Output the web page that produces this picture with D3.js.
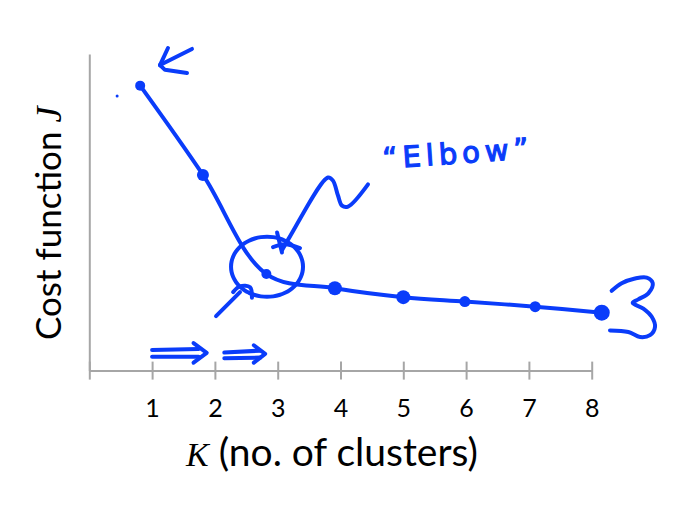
<!DOCTYPE html>
<html><head><meta charset="utf-8">
<script src="https://cdn.jsdelivr.net/npm/d3@7"></script>
<style>html,body{margin:0;padding:0;background:#fff;}svg{display:block;}</style>
</head><body>
<script>
// ---- data ----
const clusterK = [0.81, 1.81, 2.82, 3.91, 5.0, 5.98, 7.1, 8.16];   // hand-drawn x positions
const costJ    = [90.0, 61.8, 30.5, 26.0, 23.2, 21.8, 20.2, 18.3];
const tickLabels = ["1","2","3","4","5","6","7","8"];
const tickValues = [0,1,2,3,4,5,6,7,8];
// hand-drawn annotations in data units [K, J]
const arrowTopLeft = [
  [[1.253,101.9],[1.126,96.5]],
  [[1.126,96.5],[1.205,95.0],[1.556,94.0]],
  [[1.126,96.5],[1.635,101.6]]
];
const strayDot = [0.443, 86.7];
const elbowArrow = [
  [[3.068,38.0],[3.196,42.4],[3.801,61.0],[3.88,60.0],[3.96,55.3],[4.024,52.1],[4.12,51.8],[4.438,58.8]],
  [[2.99,43.6],[3.068,37.3]],
  [[2.925,39.0],[3.116,39.9],[3.355,38.7]]
];
const elbowCircleCenter = [2.83, 32.8];
const elbowCircleRadius = [0.573, 9.5];   // in K units, J units
const lowerHook = [[2.29,24.8],[2.40,26.6],[2.56,26.3],[2.59,23.0]];
const lowerArrow = [[2.018,17.2],[2.40,24.8]];
const rightSquiggle = [[8.318,25.2],[8.477,27.6],[8.689,29.1],[8.876,29.4],[8.972,27.6],[8.902,24.4],[8.742,22.5],[8.653,21.4],[8.822,19.6],[8.956,17.0],[9.008,13.8],[8.928,11.2],[8.77,10.6],[8.584,12.2],[8.291,12.7]];
const bottomArrow1 = [
  [[1.0,6.5],[1.74,6.8]],
  [[1.0,4.4],[1.74,4.4]],
  [[1.66,8.7],[1.87,5.6],[1.66,2.5]]
];
const bottomArrow2 = [
  [[2.15,5.7],[2.72,6.3]],
  [[2.15,3.9],[2.72,4.1]],
  [[2.62,8.0],[2.80,5.3],[2.62,2.5]]
];
const elbowText = "\u201CElbow\u201D";
const xTitleMath = "K";
const xTitleRest = " (no. of clusters)";
const yTitleRest = "Cost function ";
const yTitleMath = "J";
const dotSizes = [5, 6, 5, 7, 7, 5.5, 5.5, 8];

// ---- drawing ----
const W = 697, H = 507;
const blue = "#0a3cfa";
const svg = d3.select("body").append("svg").attr("width", W).attr("height", H);
const x = d3.scaleLinear().domain([0, 8]).range([89.3, 591.7]);
const y = d3.scaleLinear().domain([0, 100]).range([370.6, 54]);

// axes
const xAxis = d3.axisBottom(x).tickValues(tickValues).tickSize(9).tickSizeOuter(0)
  .tickFormat(d => d === 0 ? "" : tickLabels[d - 1]);
const gx = svg.append("g").attr("transform", `translate(0,${y(0)})`).call(xAxis);
gx.select(".domain").attr("stroke", "#a6a6a6").attr("stroke-width", 2);
gx.selectAll(".tick line").attr("stroke", "#a6a6a6").attr("stroke-width", 2)
  .attr("y1", -9).attr("y2", 9);
gx.selectAll(".tick text").attr("fill", "#000").attr("font-family", "Lato, 'Open Sans', sans-serif")
  .attr("font-size", 25).attr("dy", 0).attr("y", 46);

const yAxis = d3.axisLeft(y).tickValues([]).tickSizeOuter(0);
const gy = svg.append("g").attr("transform", `translate(${x(0)},0)`).call(yAxis);
gy.select(".domain").attr("stroke", "#a6a6a6").attr("stroke-width", 2);

// axis titles
const xt = svg.append("text").attr("x", 186).attr("y", 466).attr("font-size", 39)
  .attr("font-family", "Lato, sans-serif").attr("fill", "#000");
xt.append("tspan").attr("font-family", "'Liberation Serif', 'DejaVu Serif', serif").attr("font-style", "italic").attr("font-size", 34).text(xTitleMath);
xt.append("tspan").text(xTitleRest);

const yt = svg.append("text").attr("transform", "translate(61,340) rotate(-90)")
  .attr("font-size", 35).attr("font-family", "Lato, sans-serif").attr("fill", "#000");
yt.append("tspan").text(yTitleRest);
yt.append("tspan").attr("font-family", "'Liberation Serif', 'DejaVu Serif', serif").attr("font-style", "italic").attr("font-size", 36).text(yTitleMath);

// data line
const pts = clusterK.map((k, i) => [k, costJ[i]]);
const line = d3.line().x(d => x(d[0])).y(d => y(d[1])).curve(d3.curveCatmullRom.alpha(0.5));
const marks = svg.append("g");
marks.append("path").datum(pts).attr("d", line).attr("fill", "none")
  .attr("stroke", blue).attr("stroke-width", 4).attr("stroke-linecap", "round").attr("stroke-linejoin", "round");
marks.selectAll("circle.pt").data(pts).join("circle").attr("class", "pt")
  .attr("cx", d => x(d[0])).attr("cy", d => y(d[1])).attr("r", (d, i) => dotSizes[i]).attr("fill", blue);

// annotations
const ann = svg.append("g").attr("fill", "none").attr("stroke", blue).attr("stroke-width", 4)
  .attr("stroke-linecap", "round").attr("stroke-linejoin", "round");
const straight = d3.line().x(d => x(d[0])).y(d => y(d[1])).curve(d3.curveLinear);
const smooth = d3.line().x(d => x(d[0])).y(d => y(d[1])).curve(d3.curveCatmullRom.alpha(0.5));
[...arrowTopLeft, ...bottomArrow1, ...bottomArrow2].forEach(s => ann.append("path").attr("d", straight(s)));
ann.append("path").attr("d", smooth(elbowArrow[0]));
ann.append("path").attr("d", straight(elbowArrow[1]));
ann.append("path").attr("d", smooth(elbowArrow[2]));
// hand-drawn circle round the elbow (slightly more than one turn)
const ring = d3.range(-120, 260, 10).map(a => {
  const t = a * Math.PI / 180;
  return [elbowCircleCenter[0] + elbowCircleRadius[0] * Math.cos(t),
          elbowCircleCenter[1] + elbowCircleRadius[1] * Math.sin(t)];
});
ann.append("path").attr("d", smooth(ring));
ann.append("path").attr("d", smooth(lowerHook));
ann.append("path").attr("d", straight(lowerArrow));
ann.append("path").attr("d", smooth(rightSquiggle));
svg.append("circle").attr("cx", x(strayDot[0])).attr("cy", y(strayDot[1])).attr("r", 1.5).attr("fill", blue);

svg.append("text").attr("transform", `translate(${x(4.68)},${y(63.8)}) rotate(-4)`)
  .attr("font-family", "'DejaVu Sans', sans-serif").attr("font-size", 29).attr("letter-spacing", 5)
  .attr("fill", blue).attr("stroke", blue).attr("stroke-width", 1.2).text(elbowText);
</script>
</body></html>
